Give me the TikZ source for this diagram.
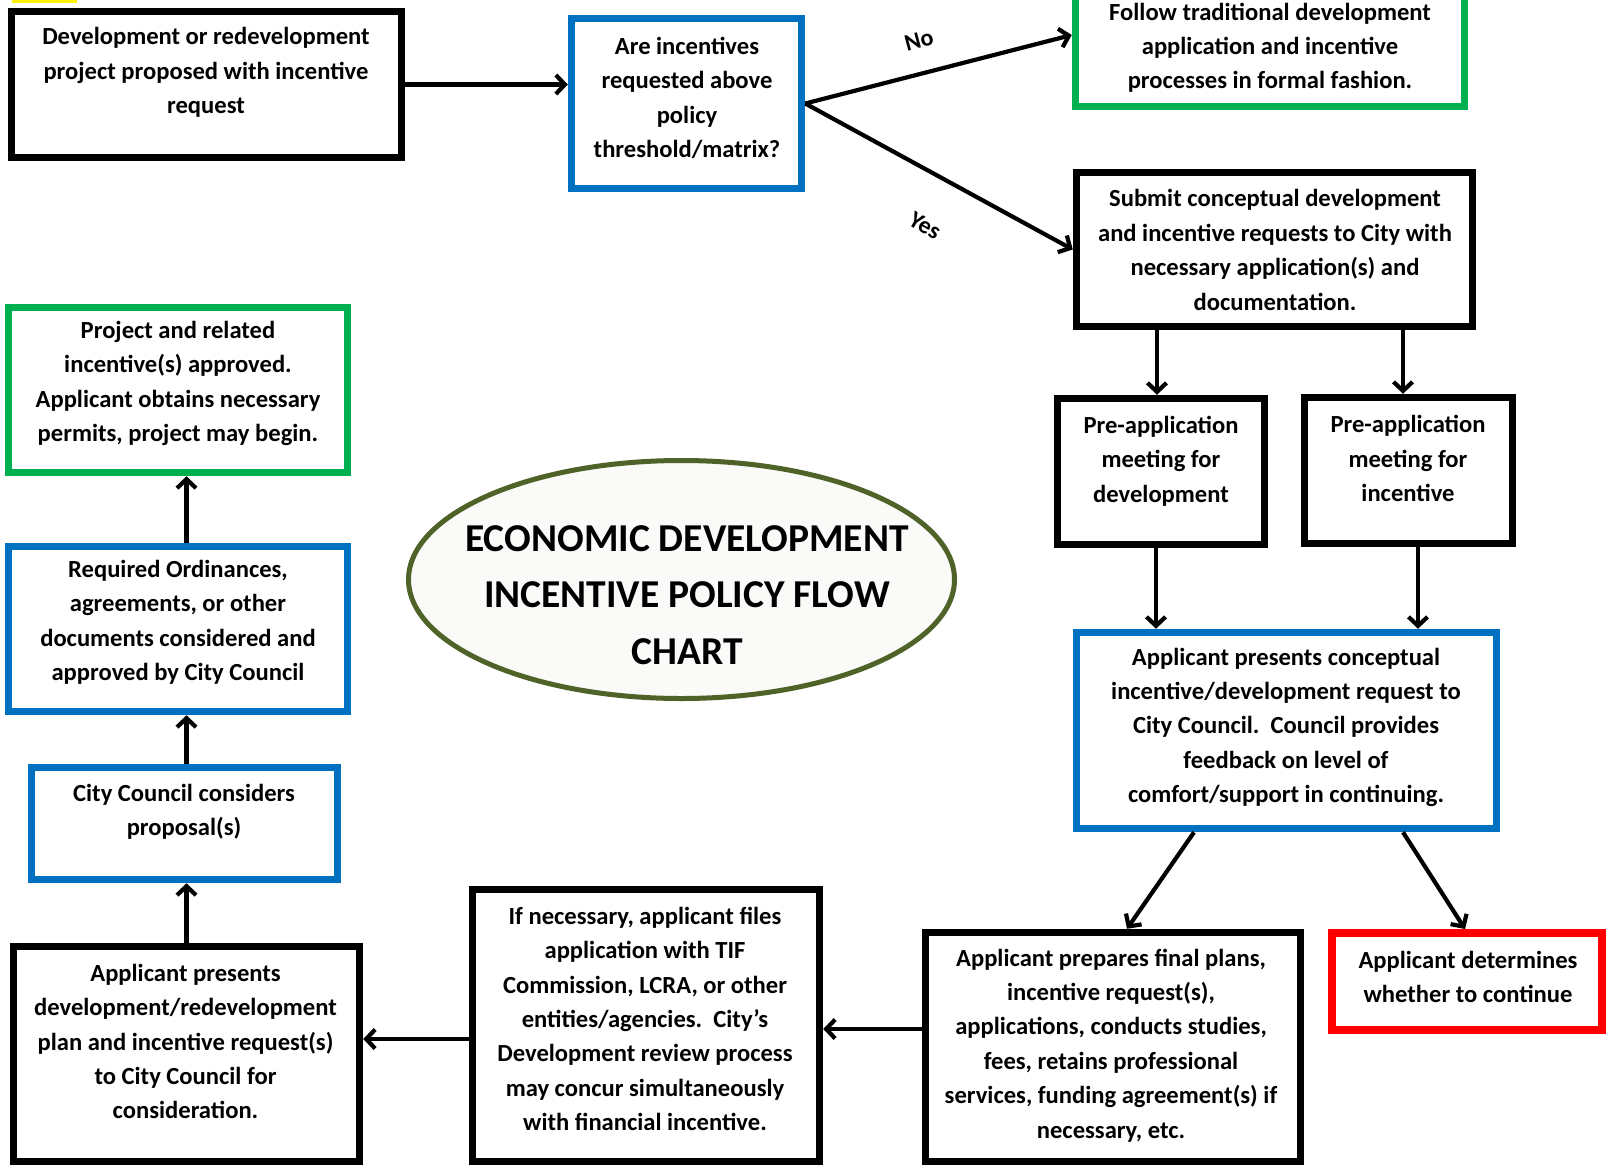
\documentclass[tikz,border=0pt]{standalone}
\usepackage{fontspec}
\setmainfont{Carlito}
\usetikzlibrary{arrows.meta,shapes.geometric}
\definecolor{cblue}{HTML}{0070C0}
\definecolor{cgreen}{HTML}{00B050}
\definecolor{cred}{HTML}{FF0000}
\definecolor{colive}{HTML}{4F6228}
\definecolor{efill}{RGB}{250,250,248}
\tikzset{
  box/.style={draw=#1, line width=7.5pt, rectangle, inner sep=0pt, fill=white},
  txt/.style={align=center, inner sep=0pt, font=\fontsize{24.6}{34.4}\selectfont\bfseries},
  arr/.style={line width=4.2pt, -{Straight Barb[length=9pt,width=19pt]}},
  lbl/.style={inner sep=0pt, font=\fontsize{24}{28}\selectfont\bfseries}
}
\begin{document}
\begin{tikzpicture}[x=1pt,y=-1pt]
\useasboundingbox (0,0) rectangle (1606,1165);
\fill[white] (0,0) rectangle (1606,1165);
\fill[yellow] (12,0) rectangle (77,3);

% boxes
\node[box=black, minimum width=390, minimum height=146] (b1) at (206.5,84.5) {};
\node[box=cblue, minimum width=230, minimum height=170] (b2) at (686.5,103.5) {};
\node[box=cgreen, minimum width=389, minimum height=143] (b3) at (1270,35) {};
\node[box=black, minimum width=396, minimum height=154] (b4) at (1274.5,249.5) {};
\node[box=black, minimum width=207, minimum height=146] (b5) at (1161,471.5) {};
\node[box=black, minimum width=208, minimum height=146] (b6) at (1408.5,470.5) {};
\node[box=cblue, minimum width=420, minimum height=196] (b7) at (1286.5,730.5) {};
\node[box=black, minimum width=375, minimum height=229] (b8) at (1113,1047) {};
\node[box=cred, line width=8pt, minimum width=270, minimum height=97] (b9) at (1467,981.5) {};
\node[box=black, minimum width=347, minimum height=272] (b10) at (646,1025.5) {};
\node[box=black, minimum width=346, minimum height=215] (b11) at (186.5,1054) {};
\node[box=cblue, minimum width=306, minimum height=112] (b12) at (184.5,823.5) {};
\node[box=cblue, minimum width=339, minimum height=165] (b13) at (178,629) {};
\node[box=cgreen, minimum width=339, minimum height=165] (b14) at (178,390) {};
\node[ellipse, draw=colive, line width=5pt, fill=efill, inner sep=0pt, minimum width=546, minimum height=238] (ell) at (681.5,579.5) {};

% texts
\node[txt] (t1) at (206,72.3) {Development or redevelopment\\project proposed with incentive\\request};
\node[txt] (t2) at (687,98) {Are incentives\\requested above\\policy\\threshold/matrix?};
\node[txt] (t3) at (1270,47.7) {Follow traditional development\\application and incentive\\processes in formal fashion.};
\node[txt] (t4) at (1275,250) {Submit conceptual development\\and incentive requests to City with\\necessary application(s) and\\documentation.};
\node[txt] (t5) at (1161,461) {Pre-application\\meeting for\\development};
\node[txt] (t6) at (1408,458.7) {Pre-application\\meeting for\\incentive};
\node[txt] (t7) at (1286,727.4) {Applicant presents conceptual\\incentive/development request to\\City Council.\ \ Council provides\\feedback on level of\\comfort/support in continuing.};
\node[txt] (t8) at (1111,1045.3) {Applicant prepares final plans,\\incentive request(s),\\applications, conducts studies,\\fees, retains professional\\services, funding agreement(s) if\\necessary, etc.};
\node[txt] (t9) at (1468,976.8) {Applicant determines\\whether to continue};
\node[txt] (t10) at (645,1019) {If necessary, applicant files\\application with TIF\\Commission, LCRA, or other\\entities/agencies.\ \ City’s\\Development review process\\may concur simultaneously\\with financial incentive.};
\node[txt] (t11) at (185.5,1041.6) {Applicant presents\\development/redevelopment\\plan and incentive request(s)\\to City Council for\\consideration.};
\node[txt] (t12) at (184,812) {City Council considers\\proposal(s)};
\node[txt] (t13) at (178,622.4) {Required Ordinances,\\agreements, or other\\documents considered and\\approved by City Council};
\node[txt] (t14) at (178,383.3) {Project and related\\incentive(s) approved.\\Applicant obtains necessary\\permits, project may begin.};
\node[align=center, inner sep=0pt, font=\fontsize{39.5}{56.5}\selectfont\bfseries] (title) at (687,594.7) {ECONOMIC DEVELOPMENT\\INCENTIVE POLICY FLOW\\CHART};

% connectors
\draw[arr] (b1.east) -- (b1.east -| b2.west);
\draw[arr] (b2.east) -- (b3.west);
\draw[arr] (b2.east) -- (b4.west);
\node[lbl, rotate=15] (no) at (919,40) {No};
\node[lbl, rotate=-30] (yes) at (925,226) {Yes};
\draw[arr] ([xshift=-4pt]b5.north |- b4.south) -- ([xshift=-4pt]b5.north);
\draw[arr] ([xshift=-5.5pt]b6.north |- b4.south) -- ([xshift=-5.5pt]b6.north);
\draw[arr] ([xshift=-5pt]b5.south) -- ([xshift=-5pt]b5.south |- b7.north);
\draw[arr] ([xshift=9.5pt]b6.south) -- ([xshift=9.5pt]b6.south |- b7.north);
\draw[arr] ([xshift=-92.5pt]b7.south) -- ([xshift=14pt]b8.north);
\draw[arr] ([xshift=116.5pt]b7.south) -- ([xshift=-2pt]b9.north);
\draw[arr] ([yshift=18pt]b8.west) -- ([yshift=18pt]b8.west -| b10.east);
\draw[arr] ([yshift=-13.5pt]b10.west) -- ([yshift=-13.5pt]b10.west -| b11.east);
\draw[arr] (b11.north) -- (b11.north |- b12.south);
\draw[arr] (b12.north -| b11.north) -- (b13.south -| b11.north);
\draw[arr] (b13.north -| b11.north) -- (b14.south -| b11.north);
\end{tikzpicture}
\end{document}
